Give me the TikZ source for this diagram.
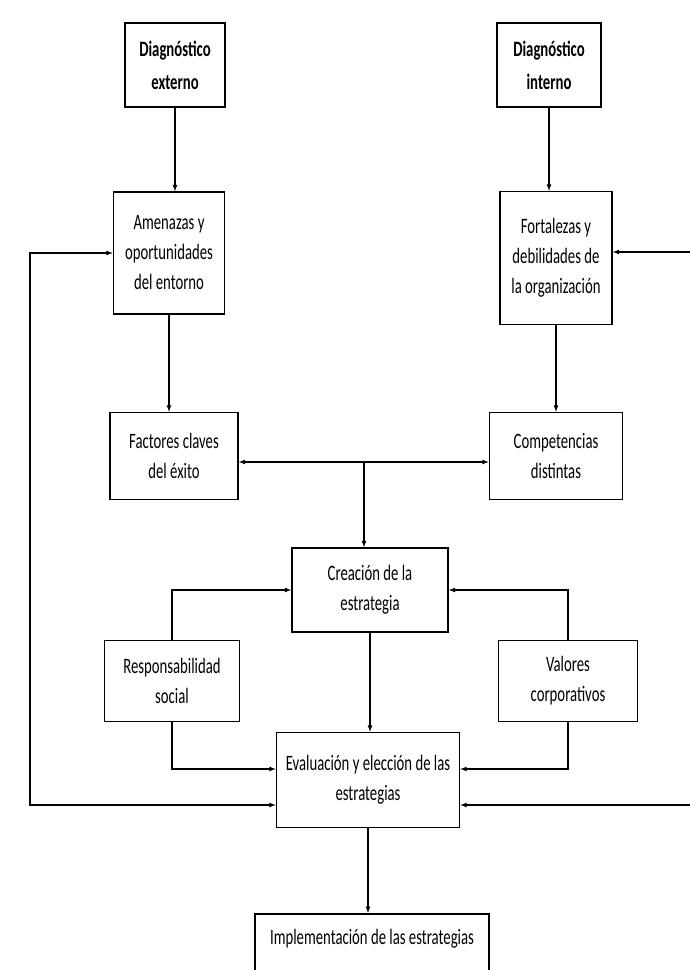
\documentclass[tikz,border=0pt]{standalone}
\usepackage{fontspec}
\setmainfont{Carlito}[FakeStretch=0.67]
\usepackage{tikz}
\usetikzlibrary{arrows}
\tikzset{
  bx/.style={rectangle, draw=black, line width=1.5pt, align=center, inner sep=0pt, font=\fontsize{22}{30}\selectfont},
  dg/.style={bx, font=\bfseries\fontsize{22}{33}\selectfont},
  ln/.style={line width=1.2pt, ->, >=latex}
}
\begin{document}
\begin{tikzpicture}[x=1pt,y=-1pt]
	\useasboundingbox (0,0) rectangle (690,970);
	\clip (0,0) rectangle (690,970);
	\node[dg, minimum width=100pt, minimum height=84pt] (ext) at (175,65) {Diagnóstico\\externo};
	\node[dg, minimum width=104pt, minimum height=84pt] (int) at (549,65) {Diagnóstico\\interno};
	\node[bx, minimum width=111pt, minimum height=122pt] (amen) at (169,253) {Amenazas y\\oportunidades\\del entorno};
	\node[bx, minimum width=112pt, minimum height=133pt] (fort) at (556,258) {Fortalezas y\\debilidades de\\la organización};
	\node[bx, minimum width=128pt, minimum height=87pt] (fact) at (174,456) {Factores claves\\del éxito};
	\node[bx, minimum width=133pt, minimum height=87pt] (comp) at (556,456) {Competencias\\distintas};
	\node[bx, minimum width=156pt, minimum height=84pt] (crea) at (370,590) {Creación de la\\estrategia};
	\node[bx, minimum width=135pt, minimum height=81pt] (resp) at (172,681) {Responsabilidad\\social};
	\node[bx, minimum width=139pt, minimum height=81pt] (val) at (568,681) {Valores\\corporativos};
	\node[bx, minimum width=183pt, minimum height=95pt] (eval) at (368,780) {Evaluación y elección de las\\estrategias};
	\node[bx, minimum width=234pt, anchor=north, text height=31pt, text depth=90pt] (impl) at (372,913) {Implementación de las estrategias};
	%
	\coordinate (mid) at (364,462);
	\coordinate (lft) at (30,805);
	\coordinate (rgt) at (700,805);
	\draw[ln] (ext) -- (ext |- amen.north);
	\draw[ln] (int) -- (int |- fort.north);
	\draw[ln] (amen) -- (amen |- fact.north);
	\draw[ln] (fort) -- (fort |- comp.north);
	\draw[ln,<->] (fact.east |- mid) -- (comp.west |- mid);
	\draw[ln] (mid) -- (mid |- crea.north);
	\draw[ln] (resp.north) |- (crea.west);
	\draw[ln] (val.north) |- (crea.east);
	\draw[ln] (resp.south) |- ([yshift=11pt]eval.west);
	\draw[ln] (val.south) |- ([yshift=11pt]eval.east);
	\draw[ln] (crea) -- (crea |- eval.north);
	\draw[ln] (eval) -- (eval |- impl.north);
	\draw[ln,<->] (amen.west) -| (lft) -- ([yshift=-25pt]eval.west);
	\draw[ln,<->] ([yshift=6pt]fort.east) -| (rgt) -- ([yshift=-25pt]eval.east);
\end{tikzpicture}
\end{document}
